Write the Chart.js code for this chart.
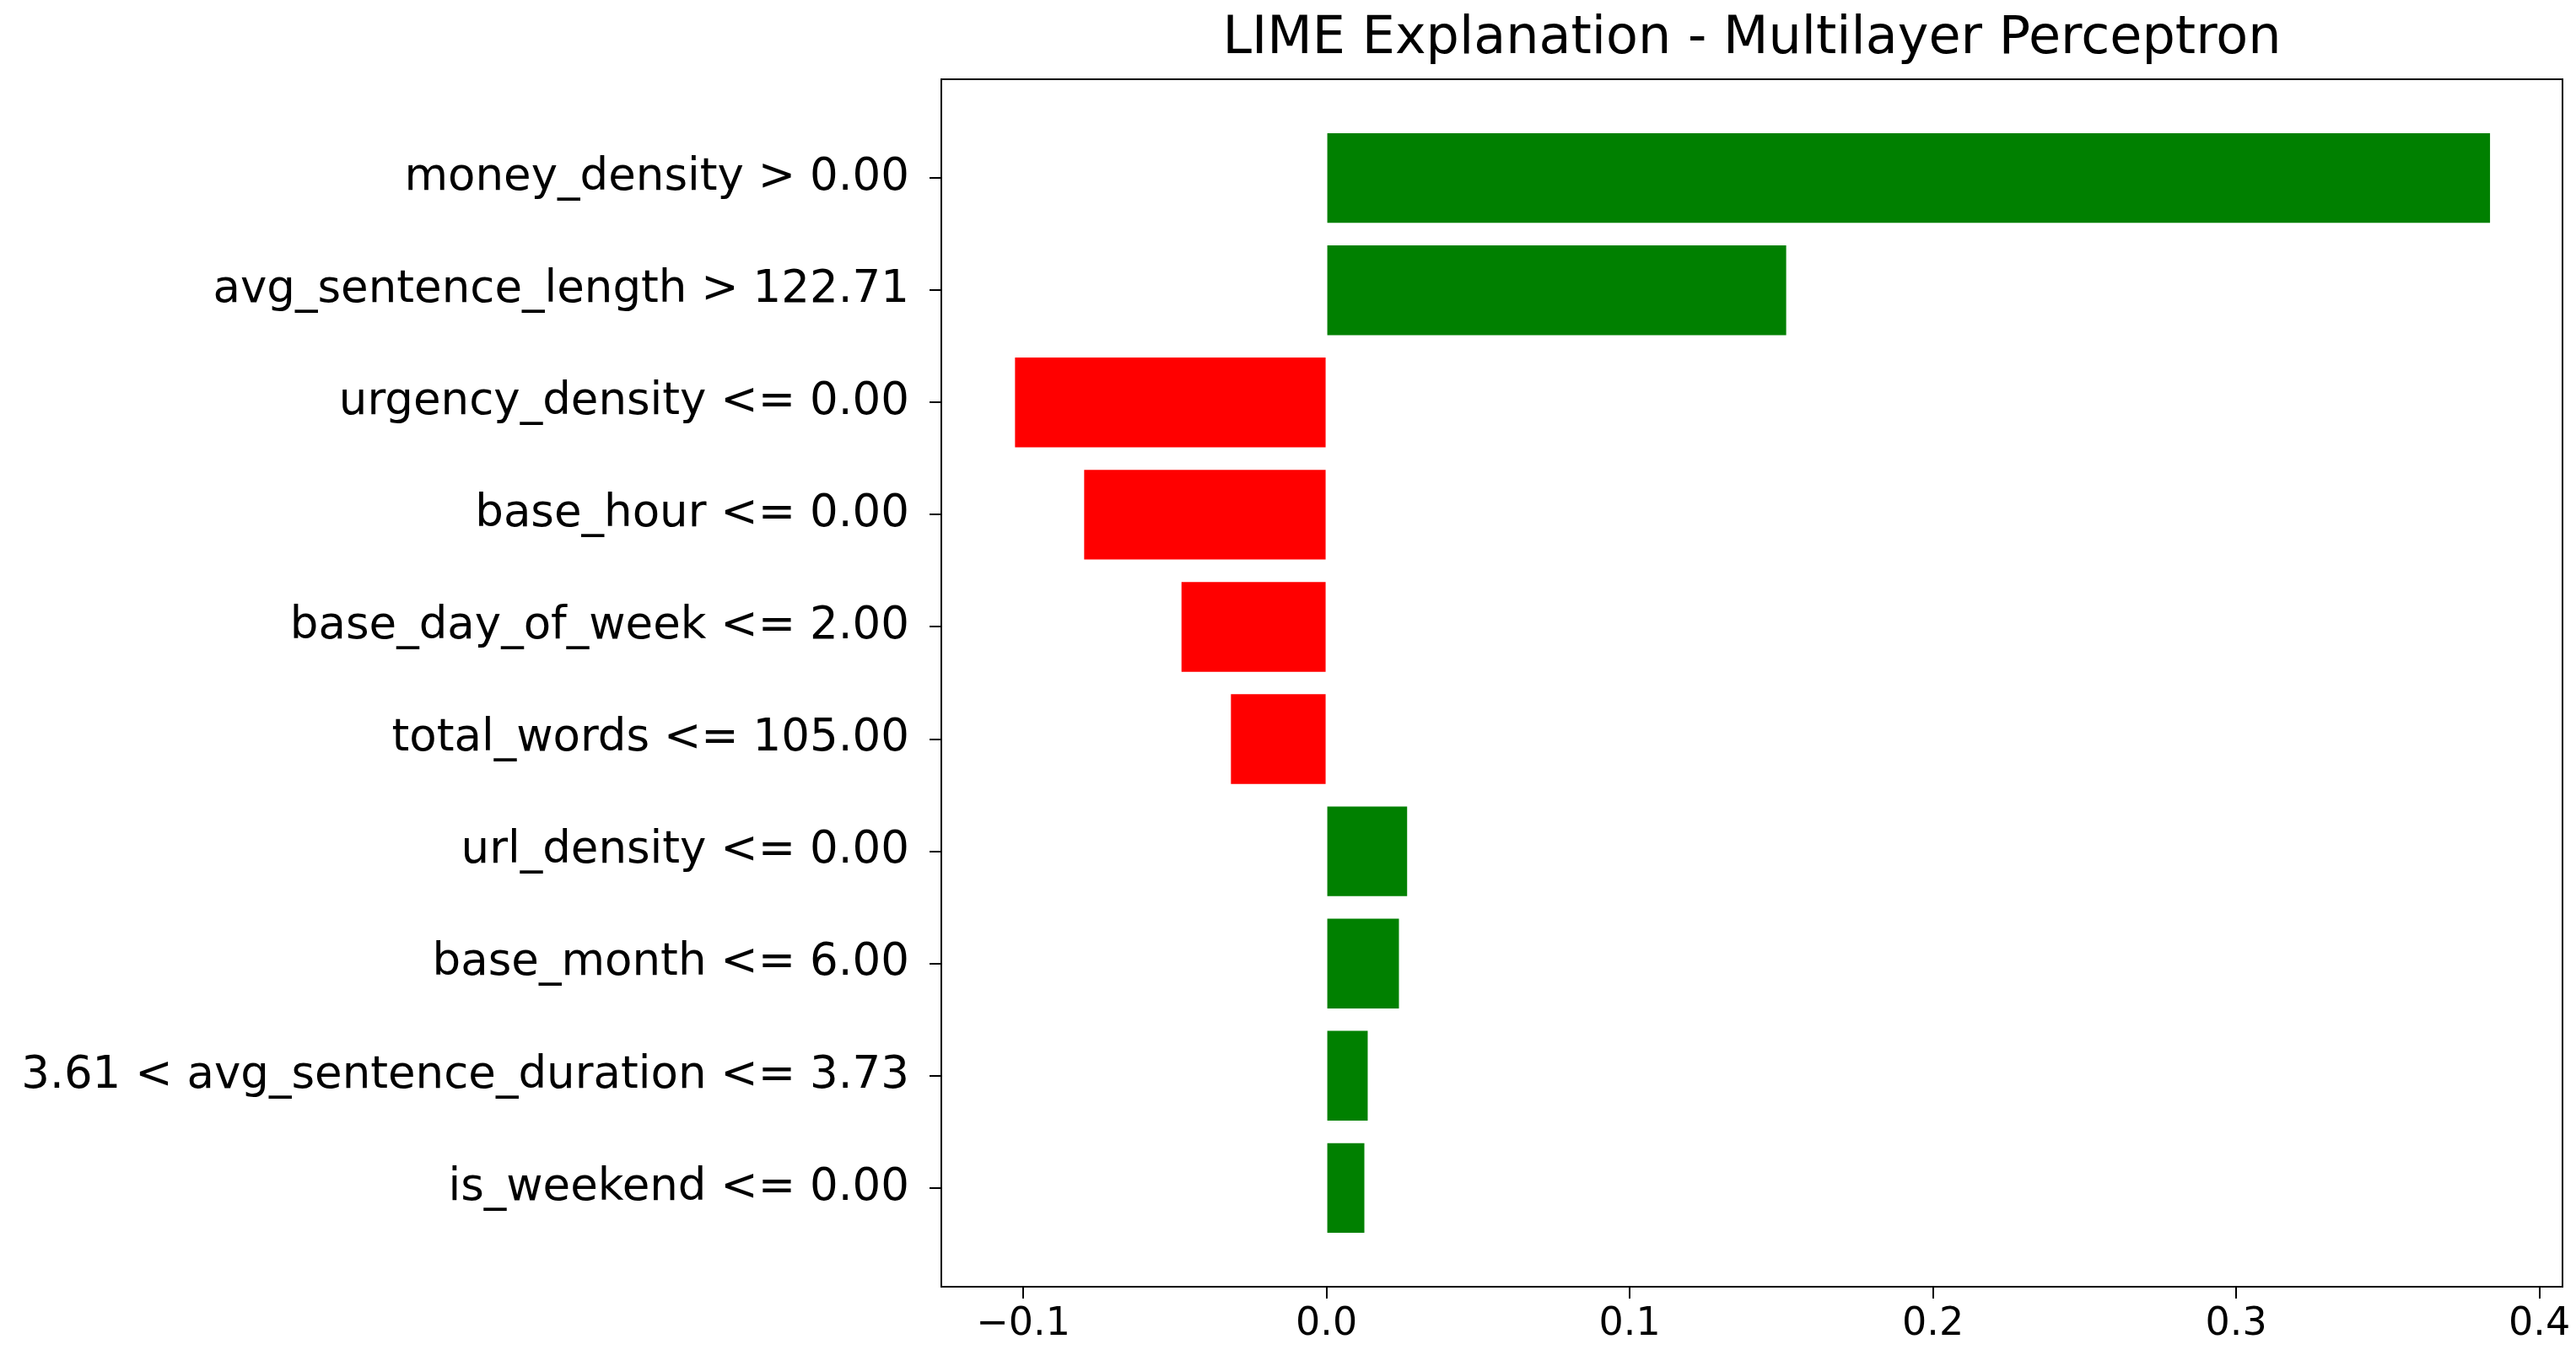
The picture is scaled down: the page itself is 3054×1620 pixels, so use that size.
<!DOCTYPE html>
<html>
<head>
<meta charset="utf-8">
<script src="https://cdn.jsdelivr.net/npm/chart.js@4/dist/chart.umd.min.js"></script>
<style>
  html, body { margin: 0; padding: 0; background: #fff; }
  #wrap { width: 3054px; height: 1620px; }
</style>
</head>
<body>
<div id="wrap"><canvas id="lime"></canvas></div>
<script>
// LIME feature weights, top to bottom
const features = [
    'money_density > 0.00',
    'avg_sentence_length > 122.71',
    'urgency_density <= 0.00',
    'base_hour <= 0.00',
    'base_day_of_week <= 2.00',
    'total_words <= 105.00',
    'url_density <= 0.00',
    'base_month <= 6.00',
    '3.61 < avg_sentence_duration <= 3.73',
    'is_weekend <= 0.00'
];
const weights = [0.3837, 0.1516, -0.1027, -0.0799, -0.0478, -0.0315, 0.0266, 0.0239, 0.0136, 0.0125];
const xTicks = [-0.1, 0.0, 0.1, 0.2, 0.3, 0.4];
const titleText = 'LIME Explanation - Multilayer Perceptron';

const points = weights.map((w, i) => ({ x: w, y: i }));
const colors = weights.map(w => w > 0 ? '#008000' : '#ff0000');

Chart.defaults.font.family = "'DejaVu Sans', sans-serif";
Chart.defaults.color = '#000';

new Chart(document.getElementById('lime'), {
    type: 'bar',
    data: {
        datasets: [{
            data: points,
            backgroundColor: colors,
            borderWidth: 0,
            barPercentage: 0.8,
            categoryPercentage: 1.0
        }]
    },
    options: {
        indexAxis: 'y',
        responsive: true,
        maintainAspectRatio: false,
        animation: false,
        layout: { padding: { left: 0, right: 16, top: 94, bottom: 0 } },
        plugins: {
            legend: { display: false },
            tooltip: { enabled: false },
            title: { display: false }
        },
        scales: {
            x: {
                type: 'linear',
                min: -0.127,
                max: 0.4076,
                afterFit: s => { s.height = 94; },
                afterBuildTicks: s => { s.ticks = xTicks.map(v => ({ value: v })); },
                ticks: {
                    font: { size: 46 },
                    color: '#000',
                    callback: v => (v < 0 ? '\u2212' : '') + Math.abs(v).toFixed(1)
                },
                grid: { display: true, drawOnChartArea: false, tickLength: 14, color: '#000', lineWidth: 2 },
                border: { display: true, color: '#000', width: 2 }
            },
            y: {
                type: 'linear',
                reverse: true,
                offset: false,
                min: -0.88,
                max: 9.88,
                afterFit: s => { s.width = 1116; },
                afterBuildTicks: s => { s.ticks = features.map((f, i) => ({ value: i })); },
                ticks: {
                    font: { size: 53 },
                    color: '#000',
                    padding: 24,
                    callback: v => features[v]
                },
                grid: { display: true, offset: false, drawOnChartArea: false, tickLength: 14, color: '#000', lineWidth: 2 },
                border: { display: true, color: '#000', width: 2 }
            }
        }
    },
    plugins: [{
        id: 'frame',
        afterDraw(chart) {
            const { ctx, chartArea: a } = chart;
            ctx.save();
            ctx.strokeStyle = '#000';
            ctx.lineWidth = 2;
            ctx.strokeRect(a.left, a.top, a.right - a.left, a.bottom - a.top);
            ctx.fillStyle = '#000';
            ctx.font = "62px 'DejaVu Sans', sans-serif";
            ctx.textAlign = 'center';
            ctx.textBaseline = 'bottom';
            ctx.fillText(titleText, (a.left + a.right) / 2, a.top - 16);
            ctx.restore();
        }
    }]
});
</script>
</body>
</html>
